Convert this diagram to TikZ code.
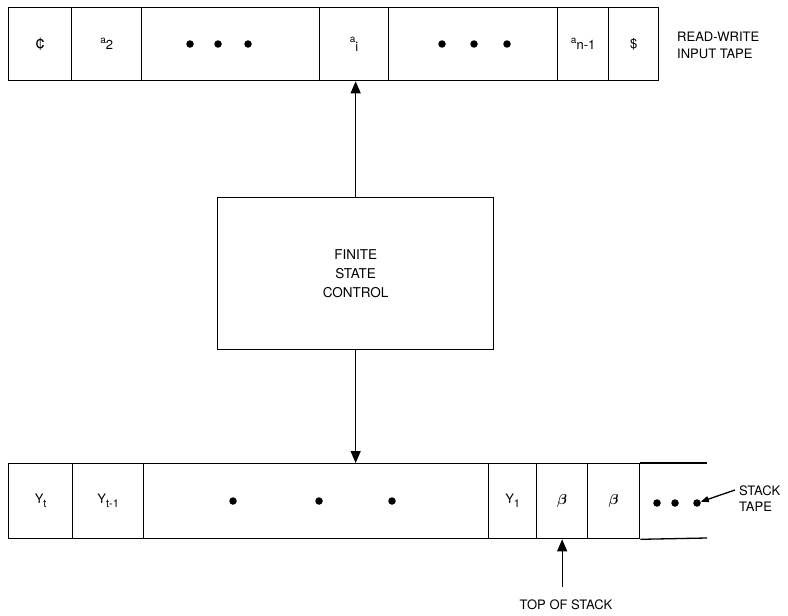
\documentclass[tikz,border=0pt]{standalone}
\usepackage{amsmath}
\usepackage{fontspec}
\setmainfont{TeX Gyre Heros}
\usetikzlibrary{arrows.meta}
\newcommand\upa[1]{\raisebox{6pt}{\fontsize{10}{10}\selectfont a}{\fontsize{13}{13}\selectfont #1}}
\newcommand\lowsub[2]{#1\raisebox{-4pt}{\fontsize{11}{11}\selectfont #2}}
\newcommand\bbeta{{\fontsize{14}{14}\selectfont$\boldsymbol{\beta}$}}
\begin{document}
\begin{tikzpicture}[x=1pt,y=-1pt,
  ln/.style={line width=1.3pt},
  cell/.style={draw, ln, rectangle, inner sep=0pt, anchor=north west, font=\fontsize{13}{13}\selectfont},
  tcell/.style={cell, minimum height=73pt},
  scell/.style={cell, minimum height=75pt},
  dot/.style={circle, fill, inner sep=0pt, minimum size=7.5pt},
  lbl/.style={font=\fontsize{13}{17}\selectfont, align=left, inner sep=0pt},
  tip/.style={-{Triangle[length=12pt,width=10pt]}}]
\useasboundingbox (0,0) rectangle (788,616);
% input tape
\node[tcell, minimum width=63pt] (t1) at (8,7) {\fontsize{17}{17}\selectfont ¢};
\node[tcell, minimum width=70pt] (t2) at (71,7) {\upa{2}};
\node[tcell, minimum width=178pt] (t3) at (141,7) {};
\node[tcell, minimum width=69pt] (t4) at (319,7) {\upa{\raisebox{-3pt}{i}}};
\node[tcell, minimum width=169pt] (t5) at (388,7) {};
\node[tcell, minimum width=51pt] (t6) at (557,7) {\upa{n-1}};
\node[tcell, minimum width=50pt] (t7) at (608,7) {\$};
\node[dot] (ta1) at (190,44) {};
\node[dot] (ta2) at (218,44) {};
\node[dot] (ta3) at (248,44) {};
\node[dot] (tb1) at (442,44) {};
\node[dot] (tb2) at (474,44) {};
\node[dot] (tb3) at (507,44) {};
\node[lbl, anchor=west] (rw) at (677,45) {READ-WRITE\\INPUT TAPE};
% finite state control
\node[draw, ln, minimum width=276pt, minimum height=152pt, anchor=north west,
      align=center, font=\fontsize{13.5}{19}\selectfont] (fsc) at (217,197) {FINITE\\STATE\\CONTROL};
% stack tape
\node[scell, minimum width=64pt] (s1) at (8,463) {\lowsub{Y}{t}};
\node[scell, minimum width=71pt] (s2) at (72,463) {\lowsub{Y}{t-1}};
\node[scell, minimum width=345pt] (s3) at (143,463) {};
\node[scell, minimum width=48pt] (s4) at (488,463) {\lowsub{Y}{1}};
\node[scell, minimum width=51pt] (s5) at (536,463) {\bbeta};
\node[scell, minimum width=52pt] (s6) at (587,463) {\bbeta};
\coordinate (ot) at (707,463);
\coordinate (ob) at (707,538);
\draw[ln] (s6.north east) -- (ot);
\draw[ln] (s6.south east) -- (ob);
\node[dot] (sd1) at (233,501) {};
\node[dot] (sd2) at (319,501) {};
\node[dot] (sd3) at (392,501) {};
\node[dot] (e1) at (657,503) {};
\node[dot] (e2) at (675,503) {};
\node[dot] (e3) at (697,503) {};
\node[lbl, anchor=west, font=\fontsize{13}{16}\selectfont] (st) at (739,499) {STACK\\TAPE};
\coordinate (sa) at (735,490);
\draw[ln, -{Triangle[length=8pt,width=6pt]}] (sa) -- (e3);
\node[lbl] (tos) at (566,605) {TOP OF STACK};
% connectors
\draw[ln, tip] (fsc.north) -- (fsc.north |- t4.south);
\draw[ln, tip] (fsc.south) -- (fsc.south |- s3.north);
\draw[ln, tip] ([yshift=13pt]tos.north -| s5) -- (s5.south);
\end{tikzpicture}
\end{document}
